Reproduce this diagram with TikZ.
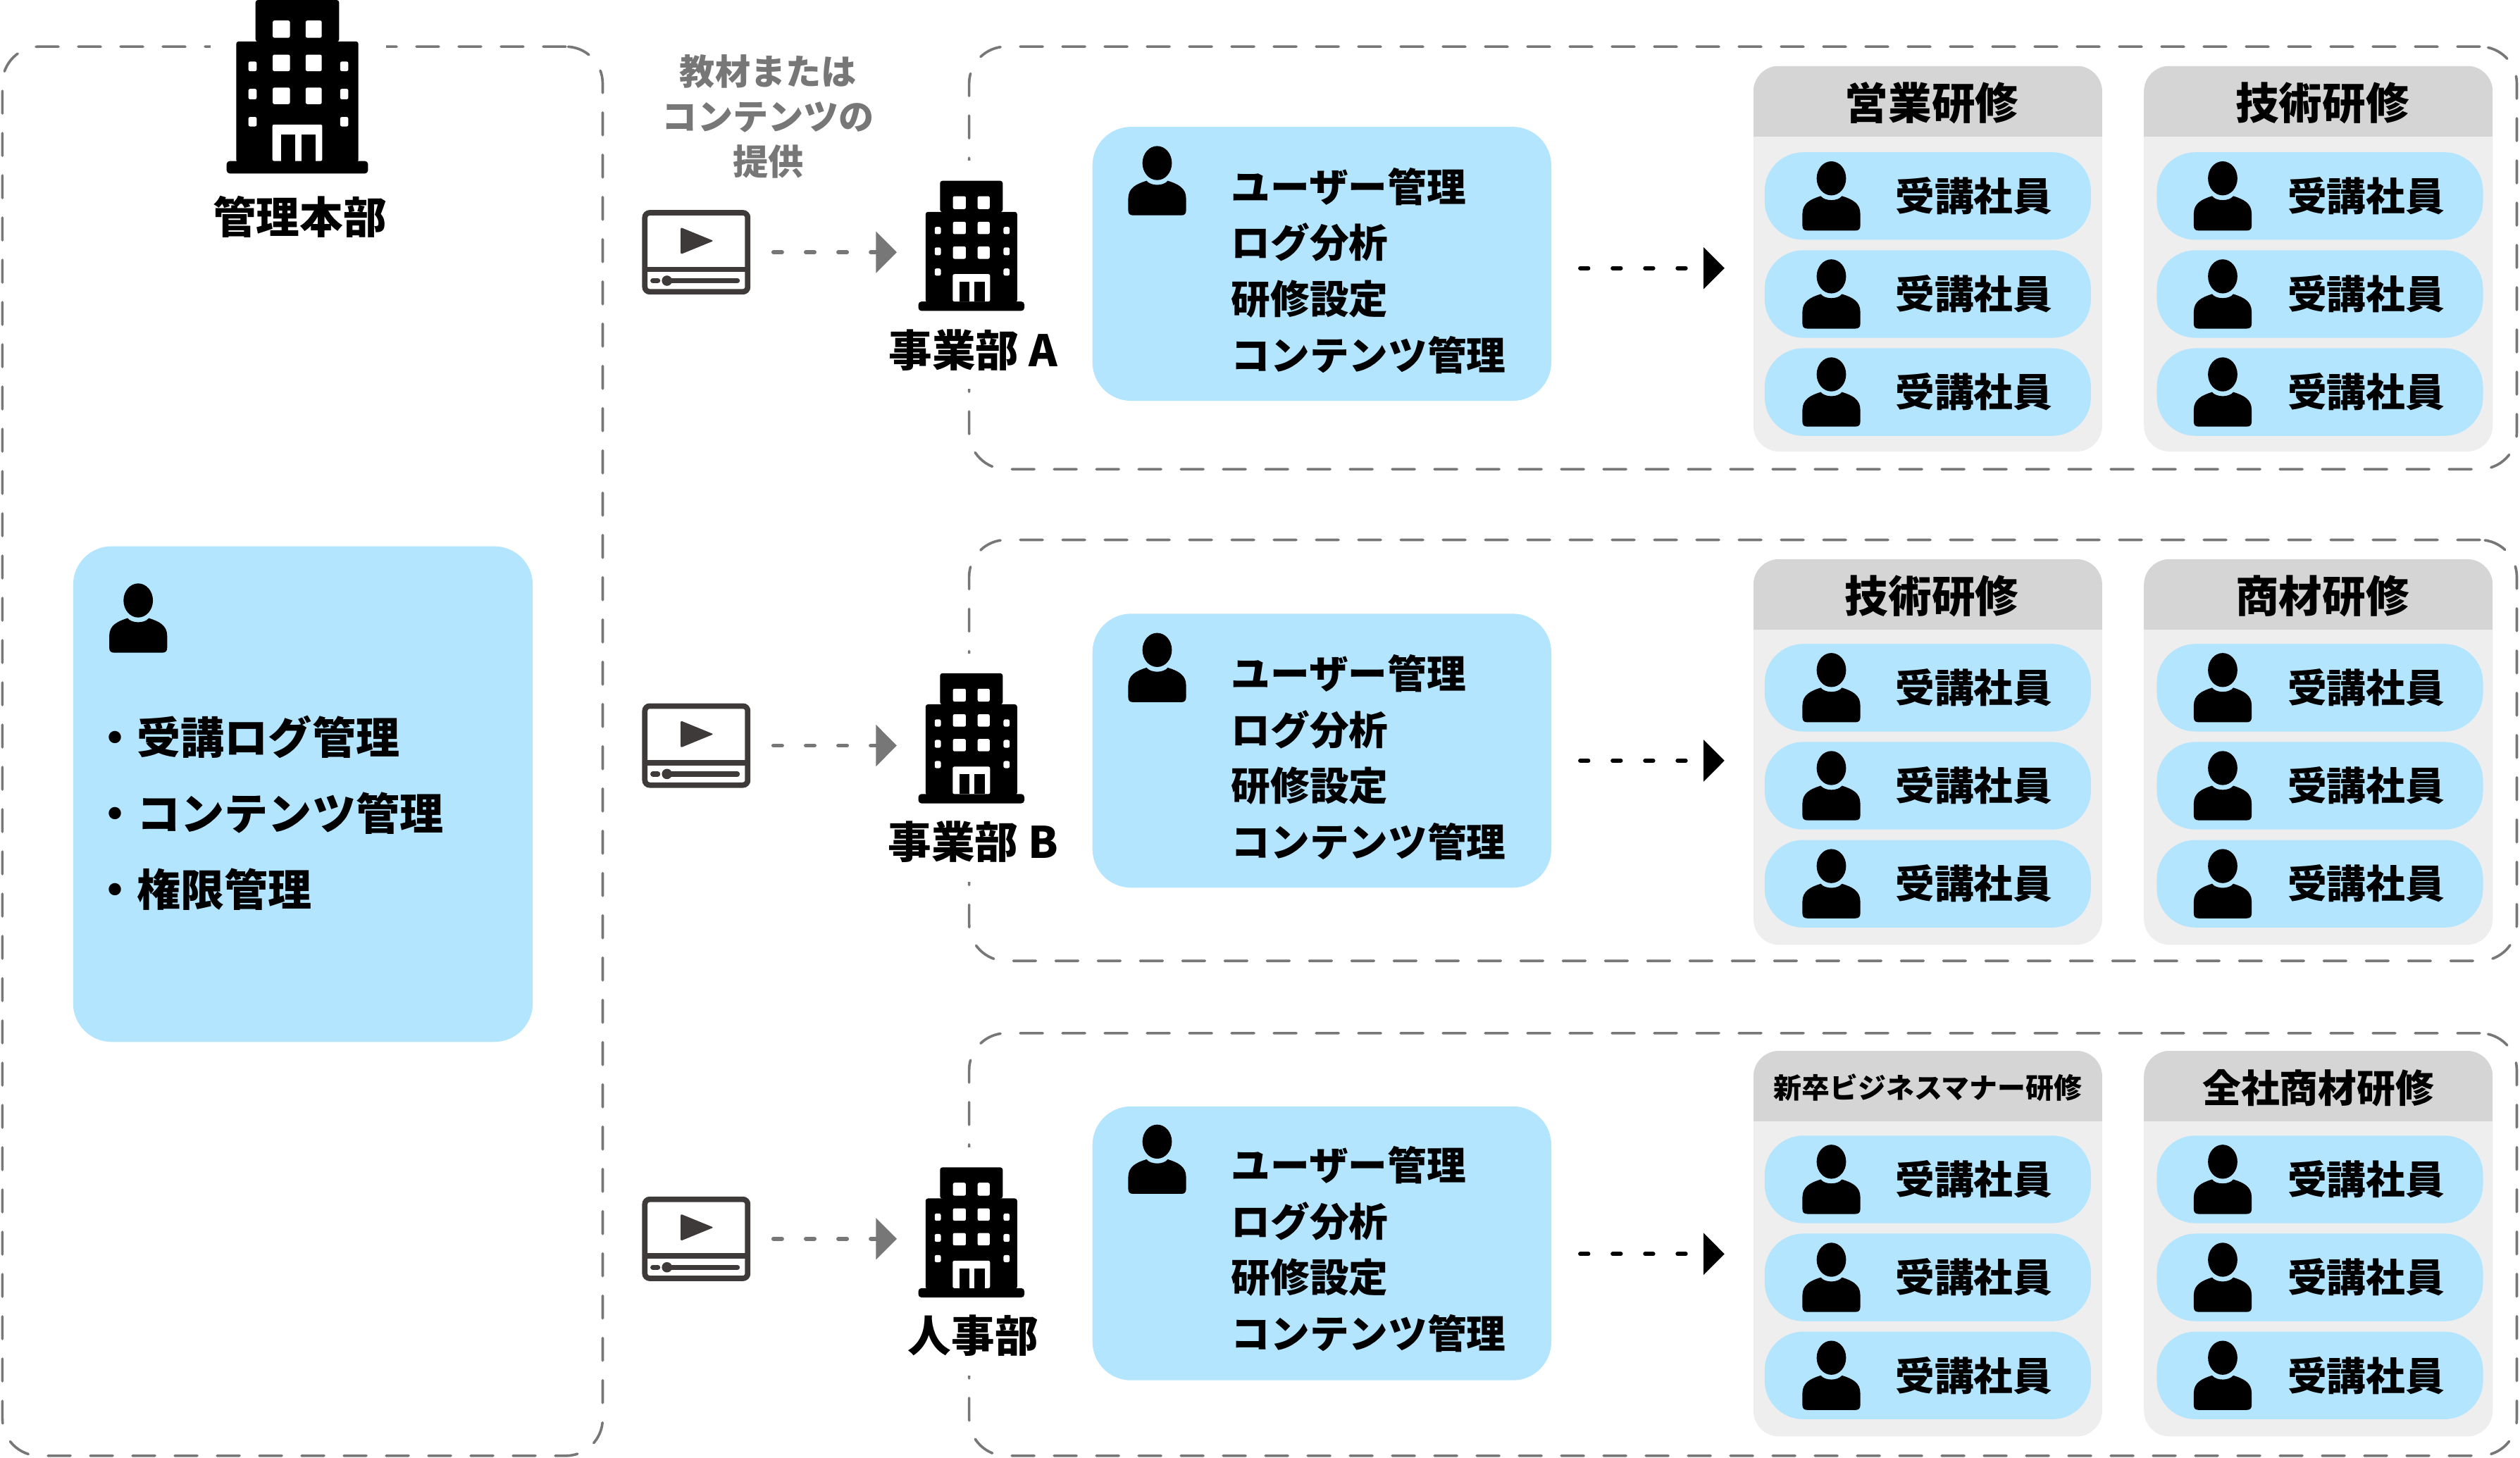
\documentclass[tikz,border=0pt]{standalone}
\usepackage{fontspec}
\setmainfont{Noto Sans CJK JP}
\usetikzlibrary{arrows.meta,positioning,calc}
\definecolor{skyfill}{HTML}{B3E5FF}
\definecolor{hdrgray}{HTML}{D5D5D5}
\definecolor{grpgray}{HTML}{EEEEEE}
\definecolor{dashgray}{HTML}{777777}
\definecolor{vidgray}{HTML}{3E3A39}
\newcommand{\fsz}[2]{\fontsize{#1}{#2}\bfseries\selectfont}

\tikzset{
    person/.pic={
        \fill (0,-11) ellipse [x radius=9.15, y radius=10.6];
        \fill (-6.6,0) .. controls (-4,3.4) and (4,3.4) .. (6.6,0)
            .. controls (13,2) and (18,4.5) .. (18,11) -- (18,18.5)
            .. controls (18,20.5) and (17,21.5) .. (15,21.5) -- (-15,21.5)
            .. controls (-17,21.5) and (-18,20.5) .. (-18,18.5) -- (-18,11)
            .. controls (-18,4.5) and (-13,2) .. (-6.6,0) -- cycle;
    },
    bld/.pic={
        \fill[rounded corners=1.5] (-26,-28) -- (-26,-54) -- (26,-54) -- (26,-28) -- cycle;
        \fill[rounded corners=1.5] (-38,47) -- (-38,-28.2) -- (38,-28.2) -- (38,47) -- cycle;
        \fill[rounded corners=2] (-44,46.2) rectangle (44,54);
        % windows
        \fill[white, rounded corners=1] (-15.3,-41.2) rectangle (-4.6,-30.5);
        \fill[white, rounded corners=1] (5.2,-41.2) rectangle (15.2,-30.5);
        \fill[white, rounded corners=1] (-15.3,-20) rectangle (-4.6,-9.7);
        \fill[white, rounded corners=1] (5.2,-20) rectangle (15.2,-9.7);
        \fill[white, rounded corners=1] (-15.3,0.5) rectangle (-4.6,10.8);
        \fill[white, rounded corners=1] (5.2,0.5) rectangle (15.2,10.8);
        \fill[white, rounded corners=1] (-30.4,-15.7) rectangle (-25.3,-9.7);
        \fill[white, rounded corners=1] (26.7,-15.7) rectangle (31.7,-9.7);
        \fill[white, rounded corners=1] (-30.4,1.3) rectangle (-25.3,7.8);
        \fill[white, rounded corners=1] (26.7,1.3) rectangle (31.7,7.8);
        \fill[white, rounded corners=1] (-30.4,18.8) rectangle (-25.3,24.7);
        \fill[white, rounded corners=1] (26.7,18.8) rectangle (31.7,24.7);
        % door
        \fill[white, rounded corners=1] (-15.5,46.2) -- (-15.5,23.5) -- (15.5,23.5) -- (15.5,46.2) -- cycle;
        \fill (-10,29.7) rectangle (-1.5,46.2);
        \fill (2.4,29.7) rectangle (11.3,46.2);
    },
    video/.pic={
        \fill[vidgray] (-32,9) rectangle (32,12.3);
        \fill[vidgray, rounded corners=1] (-9.75,-15.5) -- (10.75,-7.1) -- (-9.75,1.3) -- cycle;
        \draw[vidgray, line width=3.2, line cap=round] (-27,17.7) -- (-24,17.7);
        \draw[vidgray, line width=3.2, line cap=round] (-18,17.7) -- (25.5,17.7);
        \fill[vidgray] (-18.25,17.7) circle (3.2);
    },
    dbox/.style={rectangle, draw=dashgray, line width=1.6pt, line cap=round,
        dash pattern=on 14pt off 12.3pt, rounded corners=23pt, inner sep=0pt, outer sep=0pt},
    mask/.style={rectangle, fill=white, inner sep=0pt, outer sep=0pt},
    skybox/.style={rectangle, fill=skyfill, rounded corners=24pt, inner sep=0pt, outer sep=0pt},
    mgrbox/.style={skybox, minimum width=285.5pt, minimum height=170.5pt},
    grp/.style={rectangle, fill=grpgray, rounded corners=16pt, inner sep=0pt, outer sep=0pt,
        minimum width=217pt, minimum height=240pt,
        path picture={\fill[hdrgray, sharp corners] (path picture bounding box.north west)
            rectangle ([yshift=-44pt]path picture bounding box.north east);}},
    pill/.style={rectangle, fill=skyfill, rounded corners=24pt, minimum height=54.5pt,
        text width=155pt, align=right, inner xsep=24pt, inner ysep=0pt, outer sep=0pt,
        font=\fsz{24.4}{28}},
    ttl/.style={inner sep=0pt, font=\fsz{27}{30}},
    mgrtxt/.style={inner sep=0pt, anchor=west, align=left, font=\fsz{24.4}{35}},
    bldtxt/.style={inner sep=0pt, font=\fsz{27}{30}},
    vidbox/.style={rectangle, draw=vidgray, fill=white, line width=3.4pt, rounded corners=3pt,
        minimum width=64pt, minimum height=49.2pt, inner sep=0pt, outer sep=0pt},
    garr/.style={-{Triangle[length=13pt, width=25.5pt]}, dashgray, line width=2.6pt, line cap=round,
        dash pattern=on 5.3pt off 14.9pt, shorten <=16pt},
    barr/.style={-{Triangle[length=13pt, width=25.5pt]}, black, line width=2.6pt, line cap=round,
        dash pattern=on 5pt off 15.2pt, shorten <=18pt},
}

\begin{document}
\begin{tikzpicture}[x=1pt, y=-1pt]
\useasboundingbox (0,0) rectangle (1568,907);

% Dashed frames
\node[dbox, minimum width=373.5pt, minimum height=877pt] (hq) at (188.25,467.5) {};
\node[dbox, minimum width=963pt, minimum height=263pt] (frameA) at (1084.5,160.5) {};
\node[dbox, minimum width=963pt, minimum height=262pt] (frameB) at (1084.5,467) {};
\node[dbox, minimum width=963pt, minimum height=263pt] (frameC) at (1084.5,774.5) {};

% Head office
\node[mask, minimum width=109pt, minimum height=108pt] (bldH) at (185.5,54) {};
\pic at (185,54) {bld};
\node[ttl] (hqName) at (186.5,135) {管理本部};
\node[skybox, minimum width=286pt, minimum height=308.5pt] (hqBox) at (188.5,494.2) {};
\pic at (86,384.7) {person};
\node[inner sep=0pt, anchor=west, align=left, font=\fsz{27.2}{47.5}] (hqList) at (58,506)
    {・受講ログ管理\\・コンテンツ管理\\・権限管理};

% Caption
\node[inner sep=0pt, align=center, text=dashgray, font=\fsz{22}{28}] (note) at (478,72.5)
    {教材または\\コンテンツの\\提供};

% Row A
\node[vidbox] (vidA) at (433.25,157) {};
\pic at (vidA) {video};
\node[mask, minimum width=94pt, minimum height=142pt] (bldA) at (605,171) {};
\pic[scale=.75] at (604.4,153) {bld};
\node[bldtxt] (nameA) at (605.5,218) {事業部 A};
\draw[garr] (vidA.east) -- (vidA -| bldA.west);
\node[mgrbox] (mgrA) at (822.5,164.2) {};
\pic at (720,112.5) {person};
\node[mgrtxt] (txtA) at (766,168.5) {ユーザー管理\\ログ分析\\研修設定\\コンテンツ管理};
\coordinate (tipA) at (1073,166.9);
\draw[barr] (mgrA.east |- tipA) -- (tipA);

% Row B
\node[vidbox] (vidB) at (433.25,464) {};
\pic at (vidB) {video};
\node[mask, minimum width=94pt, minimum height=142pt] (bldB) at (605,478) {};
\pic[scale=.75] at (604.4,459.5) {bld};
\node[bldtxt] (nameB) at (605.5,524) {事業部 B};
\draw[garr] (vidB.east) -- (vidB -| bldB.west);
\node[mgrbox] (mgrB) at (822.5,467.2) {};
\pic at (720,415.5) {person};
\node[mgrtxt] (txtB) at (766,471.5) {ユーザー管理\\ログ分析\\研修設定\\コンテンツ管理};
\coordinate (tipB) at (1073,473.4);
\draw[barr] (mgrB.east |- tipB) -- (tipB);

% Row C
\node[vidbox] (vidC) at (433.25,771) {};
\pic at (vidC) {video};
\node[mask, minimum width=94pt, minimum height=142pt] (bldC) at (605,785) {};
\pic[scale=.75] at (604.4,767) {bld};
\node[bldtxt] (nameC) at (605.5,831) {人事部};
\draw[garr] (vidC.east) -- (vidC -| bldC.west);
\node[mgrbox] (mgrC) at (822.5,773.8) {};
\pic at (720,721.5) {person};
\node[mgrtxt] (txtC) at (766,777.5) {ユーザー管理\\ログ分析\\研修設定\\コンテンツ管理};
\coordinate (tipC) at (1073,780.4);
\draw[barr] (mgrC.east |- tipC) -- (tipC);

% Training groups
\node[grp] (grpA1) at (1199.5,161) {};
\node[grp] (grpA2) at (1442.5,161) {};
\node[grp] (grpB1) at (1199.5,468) {};
\node[grp] (grpB2) at (1442.5,468) {};
\node[grp] (grpC1) at (1199.5,774) {};
\node[grp] (grpC2) at (1442.5,774) {};
\node[ttl] (ttlA1) at (1202,64) {営業研修};
\node[ttl] (ttlA2) at (1445,64) {技術研修};
\node[ttl] (ttlB1) at (1202,371) {技術研修};
\node[ttl] (ttlB2) at (1445,371) {商材研修};
\node[ttl, font=\fsz{17.5}{20}] (ttlC1) at (1199.5,677) {新卒ビジネスマナー研修};
\node[ttl, font=\fsz{24}{28}] (ttlC2) at (1442.5,677) {全社商材研修};

% Trainees
\node[pill] (a1) at (1199.5,122) {受講社員}; \pic at (1139.5,122) {person};
\node[pill] (a2) at (1199.5,183) {受講社員}; \pic at (1139.5,183) {person};
\node[pill] (a3) at (1199.5,244) {受講社員}; \pic at (1139.5,244) {person};
\node[pill] (a4) at (1443.5,122) {受講社員}; \pic at (1383,122) {person};
\node[pill] (a5) at (1443.5,183) {受講社員}; \pic at (1383,183) {person};
\node[pill] (a6) at (1443.5,244) {受講社員}; \pic at (1383,244) {person};
\node[pill] (b1) at (1199.5,428) {受講社員}; \pic at (1139.5,428) {person};
\node[pill] (b2) at (1199.5,489) {受講社員}; \pic at (1139.5,489) {person};
\node[pill] (b3) at (1199.5,550) {受講社員}; \pic at (1139.5,550) {person};
\node[pill] (b4) at (1443.5,428) {受講社員}; \pic at (1383,428) {person};
\node[pill] (b5) at (1443.5,489) {受講社員}; \pic at (1383,489) {person};
\node[pill] (b6) at (1443.5,550) {受講社員}; \pic at (1383,550) {person};
\node[pill] (c1) at (1199.5,734) {受講社員}; \pic at (1139.5,734) {person};
\node[pill] (c2) at (1199.5,795) {受講社員}; \pic at (1139.5,795) {person};
\node[pill] (c3) at (1199.5,856) {受講社員}; \pic at (1139.5,856) {person};
\node[pill] (c4) at (1443.5,734) {受講社員}; \pic at (1383,734) {person};
\node[pill] (c5) at (1443.5,795) {受講社員}; \pic at (1383,795) {person};
\node[pill] (c6) at (1443.5,856) {受講社員}; \pic at (1383,856) {person};

\end{tikzpicture}
\end{document}
